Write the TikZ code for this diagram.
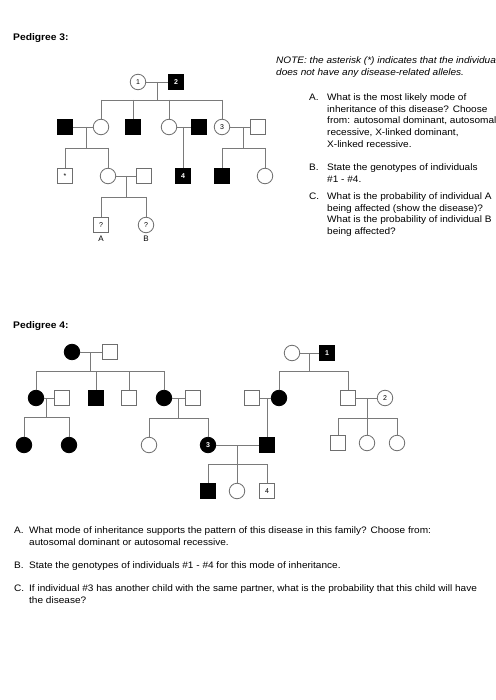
\documentclass[tikz,border=0pt]{standalone}
\usepackage{fontspec}
\setmainfont{Liberation Sans}
\newfontfamily\qfont[FakeStretch=1.07]{Liberation Sans}
\definecolor{symc}{HTML}{6E6E6E}
\definecolor{linec}{HTML}{7A7A7A}
\begin{document}
\begin{tikzpicture}[x=1pt,y=-1pt,
 sq/.style={draw=symc, line width=0.8pt, minimum size=15pt, inner sep=0pt, fill=white, font=\fontsize{7}{8}\selectfont},
 ci/.style={circle, draw=symc, line width=0.8pt, minimum size=15.5pt, inner sep=0pt, fill=white, font=\fontsize{7}{8}\selectfont},
 aff/.style={fill=black, draw=black, text=white, font=\fontsize{7}{8}\selectfont\bfseries},
 ln/.style={draw=linec, line width=0.8pt},
 txt/.style={anchor=base west, inner sep=0pt, font=\qfont\fontsize{9.4}{11}\selectfont},
 head/.style={anchor=base west, inner sep=0pt, font=\qfont\fontsize{9.6}{11}\selectfont\bfseries},
 note/.style={anchor=base west, inner sep=0pt, font=\qfont\fontsize{9.4}{11}\selectfont\itshape},
 lbl/.style={anchor=base, inner sep=0pt, font=\fontsize{8}{9}\selectfont},
]
\useasboundingbox (0,0) rectangle (495,700);
\fill[white] (0,0) rectangle (495,700);

% ---------------- Pedigree 3 ----------------
\node[head] (h3) at (13,41) {Pedigree 3:};
% generation I
\node[ci] (p3c1) at (138,82) {1};
\node[sq,aff] (p3s2) at (176,82) {2};
% generation II
\node[sq,aff] (p3a1) at (65,127) {};
\node[ci] (p3a2) at (101,127) {};
\node[sq,aff] (p3a3) at (133,127) {};
\node[ci] (p3a4) at (169,127) {};
\node[sq,aff] (p3a5) at (199,127) {};
\node[ci] (p3a6) at (222,127) {3};
\node[sq] (p3a7) at (258,127) {};
% generation III
\node[sq] (p3b1) at (65,176) {*};
\node[ci] (p3b2) at (108,176) {};
\node[sq] (p3b6) at (144,176) {};
\node[sq,aff] (p3b3) at (183,176) {4};
\node[sq,aff] (p3b4) at (222,176) {};
\node[ci] (p3b5) at (265,176) {};
% generation IV
\node[sq] (p3qa) at (101,225) {?};
\node[ci] (p3qb) at (146,225) {?};
\node[lbl] (p3la) at (101,242) {A};
\node[lbl] (p3lb) at (146,242) {B};

\coordinate (p3m1) at (157,82);   \coordinate (p3t1) at (157,100);
\coordinate (p3m2) at (86,127);   \coordinate (p3t2) at (86,148);
\coordinate (p3m3) at (183,127);
\coordinate (p3m4) at (243,127);  \coordinate (p3t4) at (243,148);
\coordinate (p3m5) at (126,176);  \coordinate (p3t5) at (126,197);

\draw[ln] (p3c1) -- (p3s2);
\draw[ln] (p3m1) -- (p3t1);
\draw[ln] (p3a2 |- p3t1) -- (p3a6 |- p3t1);
\foreach \n in {p3a2,p3a3,p3a4,p3a6} \draw[ln] (\n |- p3t1) -- (\n);
\draw[ln] (p3a1) -- (p3a2);
\draw[ln] (p3m2) -- (p3t2);
\draw[ln] (p3b1 |- p3t2) -- (p3b2 |- p3t2);
\foreach \n in {p3b1,p3b2} \draw[ln] (\n |- p3t2) -- (\n);
\draw[ln] (p3a4) -- (p3a5);
\draw[ln] (p3m3) -- (p3b3);
\draw[ln] (p3a6) -- (p3a7);
\draw[ln] (p3m4) -- (p3t4);
\draw[ln] (p3b4 |- p3t4) -- (p3b5 |- p3t4);
\foreach \n in {p3b4,p3b5} \draw[ln] (\n |- p3t4) -- (\n);
\draw[ln] (p3b2) -- (p3b6);
\draw[ln] (p3m5) -- (p3t5);
\draw[ln] (p3qa |- p3t5) -- (p3qb |- p3t5);
\foreach \n in {p3qa,p3qb} \draw[ln] (\n |- p3t5) -- (\n);

% questions pedigree 3
\node[note] (n1) at (276,63.5) {NOTE: the asterisk (*) indicates that the individual};
\node[note] (n2) at (276,75.5) {does not have any disease-related alleles.};
\node[txt] (qa0) at (309,100.3) {A.};
\node[txt] (qa1) at (327,100.3) {What is the most likely mode of};
\node[txt] (qa2) at (327,112.1) {inheritance of this disease? Choose};
\node[txt] (qa3) at (327,123.9) {from: autosomal dominant, autosomal};
\node[txt] (qa4) at (327,135.7) {recessive, X-linked dominant,};
\node[txt] (qa5) at (327,147.5) {X-linked recessive.};
\node[txt] (qb0) at (309,171) {B.};
\node[txt] (qb1) at (327,171) {State the genotypes of individuals};
\node[txt] (qb2) at (327,182.8) {\#1 - \#4.};
\node[txt] (qc0) at (309,199.3) {C.};
\node[txt] (qc1) at (327,199.3) {What is the probability of individual A};
\node[txt] (qc2) at (327,211.1) {being affected (show the disease)?};
\node[txt] (qc3) at (327,222.9) {What is the probability of individual B};
\node[txt] (qc4) at (327,234.7) {being affected?};

% ---------------- Pedigree 4 ----------------
\node[head] (h4) at (13,328) {Pedigree 4:};
\node[ci,aff] (d1) at (72,352) {};
\node[sq] (d2) at (110,352) {};
\node[ci,aff] (e1) at (36,398) {};
\node[sq] (e2) at (62,398) {};
\node[sq,aff] (e3) at (96,398) {};
\node[sq] (e4) at (129,398) {};
\node[ci,aff] (e5) at (164,398) {};
\node[sq] (e6) at (193,398) {};
\node[ci,aff] (f1) at (24,445) {};
\node[ci,aff] (f2) at (69,445) {};
\node[ci] (f3) at (149,445) {};
\node[ci,aff] (f4) at (208,445) {3};
\node[sq,aff] (f5) at (267,445) {};
\node[sq,aff] (j1) at (208,491) {};
\node[ci] (j2) at (237,491) {};
\node[sq] (j3) at (267,491) {4};
\node[ci] (g1) at (292,353) {};
\node[sq,aff] (g2) at (327,353) {1};
\node[sq] (h1) at (252,398) {};
\node[ci,aff] (h2) at (279,398) {};
\node[sq] (h3) at (348,398) {};
\node[ci] (h4c) at (385,398) {2};
\node[sq] (i1) at (338,443) {};
\node[ci] (i2) at (367,443) {};
\node[ci] (i3) at (397,443) {};

\coordinate (p4m1) at (90,352);  \coordinate (p4t1) at (90,371);
\coordinate (p4m2) at (46,398);  \coordinate (p4t2) at (46,417);
\coordinate (p4m3) at (178,398); \coordinate (p4t3) at (178,418);
\coordinate (p4m4) at (237,445); \coordinate (p4t4) at (237,464);
\coordinate (p4m5) at (309,353); \coordinate (p4t5) at (309,371);
\coordinate (p4m6) at (267,398);
\coordinate (p4m7) at (367,398); \coordinate (p4t7) at (367,418);

\draw[ln] (d1) -- (d2);
\draw[ln] (p4m1) -- (p4t1);
\draw[ln] (e1 |- p4t1) -- (e5 |- p4t1);
\foreach \n in {e1,e3,e4,e5} \draw[ln] (\n |- p4t1) -- (\n);
\draw[ln] (e1) -- (e2);
\draw[ln] (p4m2) -- (p4t2);
\draw[ln] (f1 |- p4t2) -- (f2 |- p4t2);
\foreach \n in {f1,f2} \draw[ln] (\n |- p4t2) -- (\n);
\draw[ln] (e5) -- (e6);
\draw[ln] (p4m3) -- (p4t3);
\draw[ln] (f3 |- p4t3) -- (f4 |- p4t3);
\foreach \n in {f3,f4} \draw[ln] (\n |- p4t3) -- (\n);
\draw[ln] (f4) -- (f5);
\draw[ln] (p4m4) -- (p4t4);
\draw[ln] (j1 |- p4t4) -- (j3 |- p4t4);
\foreach \n in {j1,j2,j3} \draw[ln] (\n |- p4t4) -- (\n);
\draw[ln] (g1) -- (g2);
\draw[ln] (p4m5) -- (p4t5);
\draw[ln] (h2 |- p4t5) -- (h3 |- p4t5);
\foreach \n in {h2,h3} \draw[ln] (\n |- p4t5) -- (\n);
\draw[ln] (h1) -- (h2);
\draw[ln] (p4m6) -- (f5);
\draw[ln] (h3) -- (h4c);
\draw[ln] (p4m7) -- (p4t7);
\draw[ln] (i1 |- p4t7) -- (i3 |- p4t7);
\foreach \n in {i1,i2,i3} \draw[ln] (\n |- p4t7) -- (\n);

% questions pedigree 4
\node[txt] (ra0) at (14,533) {A.};
\node[txt] (ra1) at (29,533) {What mode of inheritance supports the pattern of this disease in this family? Choose from:};
\node[txt] (ra2) at (29,545.5) {autosomal dominant or autosomal recessive.};
\node[txt] (rb0) at (14,568) {B.};
\node[txt] (rb1) at (29,568) {State the genotypes of individuals \#1 - \#4 for this mode of inheritance.};
\node[txt] (rc0) at (14,591) {C.};
\node[txt] (rc1) at (29,591) {If individual \#3 has another child with the same partner, what is the probability that this child will have};
\node[txt] (rc2) at (29,603) {the disease?};
\end{tikzpicture}
\end{document}
